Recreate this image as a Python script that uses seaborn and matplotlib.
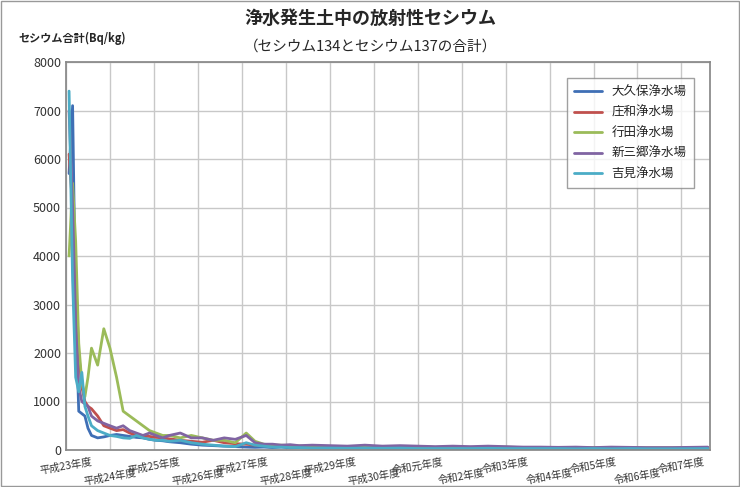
import matplotlib
matplotlib.use("Agg")
import matplotlib.pyplot as plt
import seaborn as sns
import pandas as pd

# fiscal-year position (0 = start of 平成23年度)
X = [0.07, 0.15, 0.22, 0.29, 0.36, 0.43, 0.5, 0.58, 0.72, 0.86, 1.0, 1.15, 1.3, 1.45, 1.6,
     1.75, 1.9, 2.05, 2.2, 2.35, 2.6, 2.85, 3.1, 3.35, 3.6, 3.85, 4.1, 4.3, 4.5, 4.7, 4.9,
     5.1, 5.3, 5.6, 6.0, 6.4, 6.8, 7.2, 7.6, 8.0, 8.4, 8.8, 9.2, 9.6, 10.0, 10.4, 10.8,
     11.2, 11.6, 12.0, 12.4, 12.8, 13.2, 13.8, 14.6]
OKUBO = [5700, 7100, 2800, 800, 750, 700, 450, 300, 250, 270, 300, 320, 300, 280, 260,
         250, 220, 200, 190, 170, 150, 120, 100, 90, 80, 70, 60, 55, 60, 50, 60, 45, 50,
         40, 40, 35, 40, 30, 35, 30, 35, 30, 30, 40, 30, 30, 30, 25, 30, 25, 30, 25, 25, 25, 30]
SHOWA = [6100, 5000, 3500, 2000, 1300, 1000, 900, 850, 700, 500, 450, 400, 420, 350, 300,
         300, 280, 260, 250, 230, 200, 180, 160, 200, 150, 130, 120, 100, 90, 100, 80, 90,
         80, 70, 70, 60, 60, 55, 50, 60, 50, 50, 55, 45, 50, 45, 40, 45, 40, 40, 45, 40, 40, 40, 40]
GYODA = [4000, 5500, 4300, 2200, 1400, 1100, 1500, 2100, 1750, 2500, 2100, 1500, 800, 700,
         600, 500, 400, 350, 300, 300, 250, 300, 250, 200, 200, 150, 350, 180, 120, 100, 100,
         90, 80, 80, 70, 70, 60, 70, 60, 70, 55, 60, 50, 60, 60, 50, 50, 45, 50, 45, 50, 45, 40, 40, 50]
SHINMISATO = [7000, 5000, 2600, 1300, 1000, 950, 900, 700, 600, 550, 500, 450, 500, 400, 350,
              300, 350, 300, 250, 300, 350, 250, 250, 200, 250, 220, 300, 150, 120, 120, 100,
              110, 90, 100, 90, 80, 100, 80, 90, 80, 70, 80, 70, 80, 70, 60, 60, 55, 60, 50,
              60, 55, 50, 50, 60]
YOSHIMI = [7400, 3500, 1500, 1200, 1600, 900, 700, 500, 400, 350, 300, 280, 250, 240, 300,
           250, 220, 200, 200, 180, 200, 150, 120, 100, 80, 70, 150, 100, 80, 60, 60, 50, 50,
           40, 40, 35, 40, 35, 40, 30, 30, 30, 30, 35, 30, 30, 30, 30, 25, 30, 25, 30, 25, 25, 30]

NAMES = ["大久保浄水場", "庄和浄水場", "行田浄水場", "新三郷浄水場", "吉見浄水場"]
COLORS = ["#3f6fb5", "#c0504d", "#9bbb59", "#8064a2", "#4bacc6"]
YEAR_LABELS = ["平成23年度", "平成24年度", "平成25年度", "平成26年度", "平成27年度",
               "平成28年度", "平成29年度", "平成30年度", "令和元年度", "令和2年度",
               "令和3年度", "令和4年度", "令和5年度", "令和6年度", "令和7年度"]

rows = []
for name, vals in zip(NAMES, [OKUBO, SHOWA, GYODA, SHINMISATO, YOSHIMI]):
    for x, v in zip(X, vals):
        rows.append({"x": x, "v": v, "site": name})
df = pd.DataFrame(rows)

sns.set_theme(style="white")
plt.rcParams["font.family"] = ["Noto Sans CJK JP", "DejaVu Sans"]

fig = plt.figure(figsize=(7.4, 4.87), dpi=100)
ax = fig.add_axes([66 / 740, 37 / 487, 644 / 740, 388 / 487])
sns.lineplot(data=df, x="x", y="v", hue="site", palette=COLORS, linewidth=2.0, ax=ax)

XMAX = 14.65
ax.set_xlim(0, XMAX)
ax.set_ylim(0, 8000)
ax.set_yticks(range(0, 8001, 1000))
ax.set_xticks(range(15))
ax.set_xticklabels([])
ax.grid(True, color="#c8c8c8", linewidth=1)
for s in ax.spines.values():
    s.set_color("#888888")
ax.tick_params(axis="y", labelsize=9, colors="#333333", length=0)
ax.tick_params(axis="x", length=4, color="#888888")
for i, lab in enumerate(YEAR_LABELS):
    xi = min(i, XMAX - 0.45)
    ax.text(xi, -330 if i % 2 == 0 else -560, lab, rotation=10, ha="center", va="center",
            fontsize=7.5, color="#333333")
ax.set_xlabel("")
ax.set_ylabel("")

leg = ax.legend(title=None, loc="upper right", bbox_to_anchor=(0.985, 0.975), fontsize=9,
                frameon=True, fancybox=False, handlelength=2.2, borderpad=0.6, labelspacing=0.6)
leg.get_frame().set_edgecolor("#888888")

fig.text(0.5, 1 - 18 / 487, "浄水発生土中の放射性セシウム", ha="center", va="center",
         fontsize=13, fontweight="bold")
fig.text(0.5, 1 - 47 / 487, "（セシウム134とセシウム137の合計）", ha="center", va="center",
         fontsize=10.5)
fig.text(18 / 740, 1 - 38 / 487, "セシウム合計(Bq/kg)", ha="left", va="center",
         fontsize=8, fontweight="bold")
fig.patches.append(plt.Rectangle((0.002, 0.003), 0.996, 0.994, transform=fig.transFigure,
                                 fill=False, edgecolor="#999999", linewidth=1))

fig.savefig("out.png", dpi=100)
